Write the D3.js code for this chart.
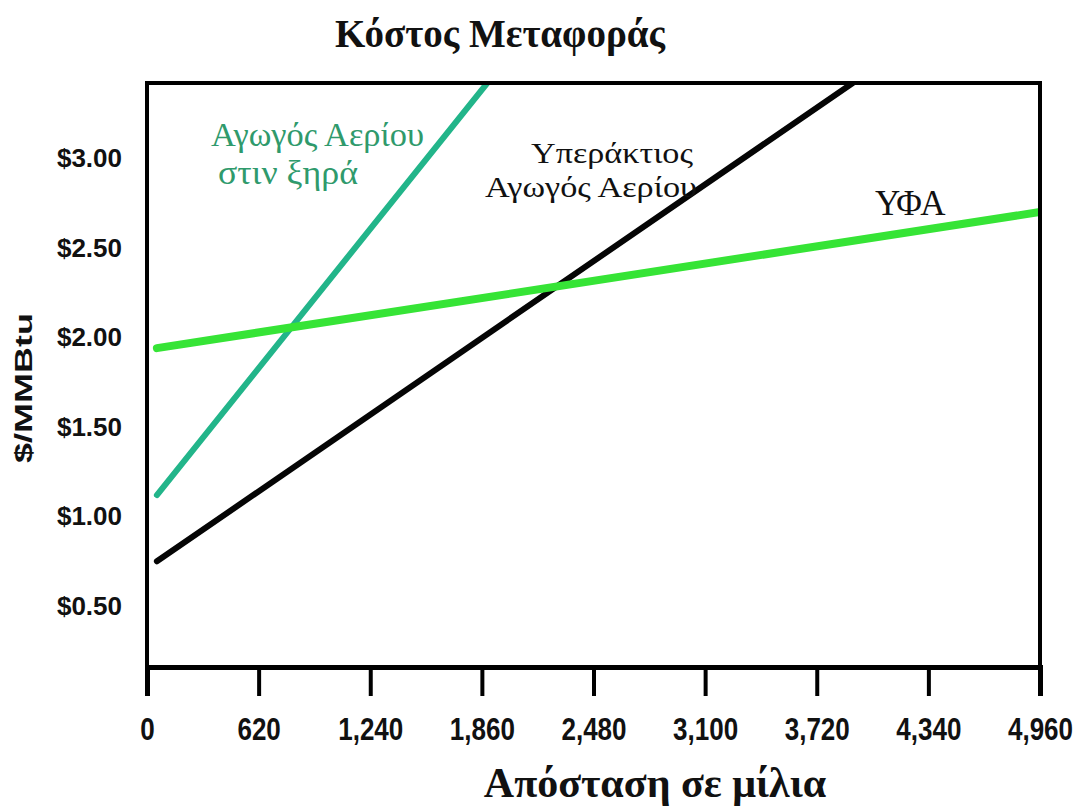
<!DOCTYPE html>
<html>
<head>
<meta charset="utf-8">
<script src="https://cdn.jsdelivr.net/npm/d3@7"></script>
<style>
  html, body { margin: 0; padding: 0; background: #ffffff; }
  svg { display: block; }
</style>
</head>
<body>
<svg id="chart" width="1076" height="810"></svg>
<script>
// ---- Data ----
const chartTitle = "Κόστος Μεταφοράς";
const xAxisTitle = "Απόσταση σε μίλια";
const yAxisTitle = "$/MMBtu";

const xTickValues = [0, 620, 1240, 1860, 2480, 3100, 3720, 4340, 4960];
const yTickValues = [0.5, 1.0, 1.5, 2.0, 2.5, 3.0];

const seriesNames = ["Αγωγός Αερίου στιν ξηρά", "Υπεράκτιος Αγωγός Αερίου", "ΥΦΑ"];
const onshoreLabel = ["Αγωγός Αερίου", "στιν ξηρά"];
const offshoreLabel = ["Υπεράκτιος", "Αγωγός Αερίου"];
const lngLabel = ["ΥΦΑ"];
const onshoreMiles = [55, 1890];
const onshoreCost = [1.12, 3.42];
const offshoreMiles = [55, 3920];
const offshoreCost = [0.75, 3.42];
const lngMiles = [55, 4960];
const lngCost = [1.94, 2.70];

// ---- Layout ----
const svg = d3.select("#chart");
const plot = { left: 147, right: 1040, top: 83, bottom: 667 };

const x = d3.scaleLinear().domain([0, 4960]).range([plot.left, plot.right]);
const y = d3.scaleLinear().domain([0.16, 3.42]).range([plot.bottom, plot.top]);

const serif = "'Liberation Serif', 'Times New Roman', serif";
const sans = "'Liberation Sans', Arial, sans-serif";

// Title
svg.append("text")
  .attr("x", 500).attr("y", 47)
  .attr("text-anchor", "middle")
  .attr("font-family", serif).attr("font-weight", "bold")
  .attr("font-size", 39).attr("fill", "#111")
  .text(chartTitle);

// Series lines
const series = [
  { name: seriesNames[0], miles: onshoreMiles, cost: onshoreCost, color: "#22b58a", width: 6 },
  { name: seriesNames[1], miles: offshoreMiles, cost: offshoreCost, color: "#050505", width: 6 },
  { name: seriesNames[2], miles: lngMiles, cost: lngCost, color: "#36e436", width: 8 }
];

const line = d3.line().x(d => x(d[0])).y(d => y(d[1]));

svg.append("defs").append("clipPath").attr("id", "plotclip")
  .append("rect")
  .attr("x", plot.left).attr("y", plot.top)
  .attr("width", plot.right - plot.left).attr("height", plot.bottom - plot.top);

const lines = svg.append("g").attr("clip-path", "url(#plotclip)");
series.forEach(s => {
  lines.append("path")
    .datum(s.miles.map((m, i) => [m, s.cost[i]]))
    .attr("d", line)
    .attr("fill", "none")
    .attr("stroke", s.color)
    .attr("stroke-width", s.width)
    .attr("stroke-linecap", "round");
});

// Frame (left, top, right)
svg.append("path")
  .attr("d", `M${plot.left},${plot.bottom} V${plot.top} H${plot.right} V${plot.bottom}`)
  .attr("fill", "none").attr("stroke", "#000").attr("stroke-width", 4);

// X axis
const xAxis = d3.axisBottom(x)
  .tickValues(xTickValues)
  .tickSize(29)
  .tickPadding(22)
  .tickFormat(d3.format(","));

const gx = svg.append("g")
  .attr("transform", `translate(0,${plot.bottom})`)
  .call(xAxis);
gx.select(".domain").attr("stroke", "#000").attr("stroke-width", 5);
gx.selectAll(".tick line").attr("stroke", "#000").attr("stroke-width", 4);
gx.selectAll(".tick text")
  .attr("font-family", sans)
  .attr("font-weight", "bold")
  .attr("font-size", 31)
  .attr("fill", "#111")
  .attr("transform", "scale(0.84,1)");

// Y axis labels
const yAxis = d3.axisLeft(y)
  .tickValues(yTickValues)
  .tickSize(0)
  .tickPadding(25)
  .tickFormat(d => "$" + d3.format(".2f")(d));

const gy = svg.append("g")
  .attr("transform", `translate(${plot.left},0)`)
  .call(yAxis);
gy.select(".domain").remove();
gy.selectAll(".tick text")
  .attr("font-family", sans)
  .attr("font-weight", "bold")
  .attr("font-size", 26)
  .attr("fill", "#111");

// Axis titles
svg.append("text")
  .attr("x", 655).attr("y", 797)
  .attr("text-anchor", "middle")
  .attr("font-family", serif).attr("font-weight", "bold")
  .attr("font-size", 42).attr("fill", "#111")
  .text(xAxisTitle);

svg.append("text")
  .attr("transform", "translate(32,388) rotate(-90)")
  .attr("text-anchor", "middle")
  .attr("font-family", sans).attr("font-weight", "bold")
  .attr("font-size", 24).attr("fill", "#111")
  .attr("textLength", 150).attr("lengthAdjust", "spacingAndGlyphs")
  .text(yAxisTitle);

// Series annotations
const ann = svg.append("g").attr("font-family", serif);

ann.append("text").attr("x", 211).attr("y", 146)
  .attr("font-size", 34).attr("fill", "#2f9a6c")
  .attr("textLength", 213).attr("lengthAdjust", "spacingAndGlyphs")
  .text(onshoreLabel[0]);
ann.append("text").attr("x", 218).attr("y", 184)
  .attr("font-size", 34).attr("fill", "#2f9a6c")
  .attr("textLength", 140).attr("lengthAdjust", "spacingAndGlyphs")
  .text(onshoreLabel[1]);

ann.append("text").attr("x", 531).attr("y", 163)
  .attr("font-size", 30).attr("fill", "#111")
  .attr("textLength", 162).attr("lengthAdjust", "spacingAndGlyphs")
  .text(offshoreLabel[0]);
ann.append("text").attr("x", 485).attr("y", 197)
  .attr("font-size", 30).attr("fill", "#111")
  .attr("textLength", 212).attr("lengthAdjust", "spacingAndGlyphs")
  .text(offshoreLabel[1]);

ann.append("text").attr("x", 875).attr("y", 215)
  .attr("font-size", 35).attr("fill", "#111")
  .text(lngLabel[0]);
</script>
</body>
</html>
